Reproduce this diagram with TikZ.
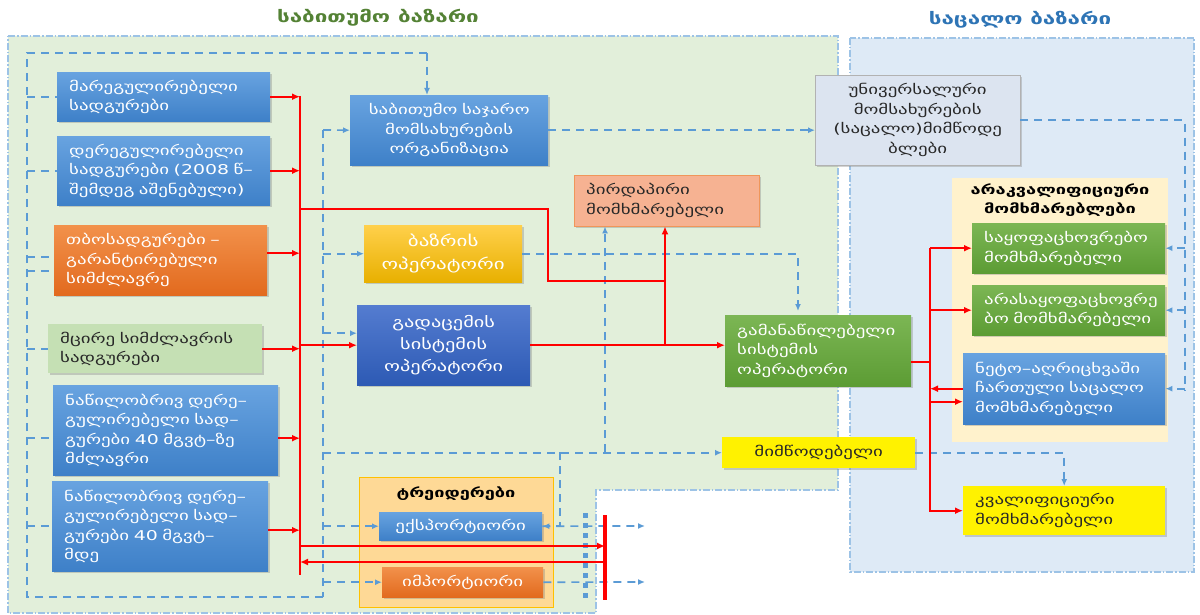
\documentclass[tikz,border=0pt]{standalone}
\usepackage{fontspec}
\setmainfont{DejaVu Sans}
\newfontfamily\geo[FakeStretch=1.4]{DejaVu Sans}
\usetikzlibrary{arrows.meta,shadows}

\definecolor{wholefill}{RGB}{226,239,218}
\definecolor{retailfill}{RGB}{222,234,246}
\definecolor{zoneline}{RGB}{157,195,230}
\definecolor{dashblue}{RGB}{91,155,213}
\definecolor{titlegreen}{RGB}{84,130,53}
\definecolor{titleblue}{RGB}{46,116,181}
\definecolor{bluetop}{RGB}{104,163,224}
\definecolor{bluebot}{RGB}{62,128,200}
\definecolor{navytop}{RGB}{84,124,208}
\definecolor{navybot}{RGB}{45,90,180}
\definecolor{orangetop}{RGB}{242,145,75}
\definecolor{orangebot}{RGB}{226,106,30}
\definecolor{greentop}{RGB}{124,182,84}
\definecolor{greenbot}{RGB}{92,156,52}
\definecolor{goldtop}{RGB}{255,208,75}
\definecolor{goldbot}{RGB}{232,176,0}
\definecolor{smallgreen}{RGB}{197,224,180}
\definecolor{salmon}{RGB}{246,178,146}
\definecolor{salmonline}{RGB}{240,150,90}
\definecolor{uspfill}{RGB}{220,228,240}
\definecolor{cream}{RGB}{255,242,204}
\definecolor{tradefill}{RGB}{254,217,150}
\definecolor{tradeline}{RGB}{255,192,0}
\definecolor{darktext}{RGB}{40,40,40}

\tikzset{
  unit/.style={rectangle, anchor=north west, inner xsep=12pt, inner ysep=2pt,
    align=left, text=white, font=\geo\fontsize{13.5}{19.5}\selectfont,
    drop shadow={opacity=0.35, shadow xshift=1.5pt, shadow yshift=-1.5pt}},
  blueunit/.style={unit, top color=bluetop, bottom color=bluebot},
  navyunit/.style={unit, top color=navytop, bottom color=navybot},
  orangeunit/.style={unit, top color=orangetop, bottom color=orangebot},
  greenunit/.style={unit, top color=greentop, bottom color=greenbot},
  goldunit/.style={unit, top color=goldtop, bottom color=goldbot},
  paleunit/.style={unit, text=darktext},
  panel/.style={rectangle, anchor=north west, inner sep=0pt},
  title/.style={font=\geo\bfseries\fontsize{16}{18}\selectfont},
  headtext/.style={font=\geo\bfseries\fontsize{13}{19}\selectfont, text=black, align=center},
  zone/.style={color=zoneline, line width=1.2pt, dash pattern=on 7pt off 2pt on 1.5pt off 2pt},
  rline/.style={red, line width=1.8pt},
  flow/.style={rline, -{Latex[length=8pt,width=7pt]}},
  link/.style={dashblue, line width=1.7pt, dash pattern=on 8pt off 6pt},
  linkarr/.style={link, -{Latex[length=7pt,width=6pt]}},
}

\begin{document}
\begin{tikzpicture}[x=1pt,y=-1pt]
\useasboundingbox (0,0) rectangle (1200,615);

% market zones
\fill[wholefill] (8,36) -- (838,36) -- (838,490) -- (596,490) -- (596,613) -- (8,613) -- cycle;
\draw[zone] (8,36) -- (838,36) -- (838,490) -- (596,490) -- (596,613) -- (8,613) -- cycle;
\fill[retailfill] (850,38) rectangle (1194,572);
\draw[zone] (850,38) rectangle (1194,572);

\node[title, text=titlegreen] (wt) at (378,18) {საბითუმო ბაზარი};
\node[title, text=titleblue] (rt) at (1020,20) {საცალო ბაზარი};

% generation
\node[blueunit, text width=189, minimum height=49] (m1) at (57,72) {მარეგულირებელი\\სადგურები};
\node[blueunit, text width=189, minimum height=69] (m2) at (57,136) {დერეგულირებელი\\სადგურები (2008 წ–\\შემდეგ აშენებული)};
\node[orangeunit, text width=189, minimum height=70] (m3) at (54,225) {თბოსადგურები –\\გარანტირებული\\სიმძლავრე};
\node[paleunit, fill=smallgreen, text width=190, minimum height=49] (m4) at (48,324) {მცირე სიმძლავრის\\სადგურები};
\node[blueunit, text width=201, minimum height=90] (m5) at (53,385) {ნაწილობრივ დერე–\\გულირებელი სად–\\გურები 40 მგვტ–ზე\\მძლავრი};
\node[blueunit, text width=192, minimum height=90] (m6) at (52,481) {ნაწილობრივ დერე–\\გულირებელი სად–\\გურები 40 მგვტ–\\მდე};

% wholesale players
\node[blueunit, align=center, text width=174, minimum height=70] (pso) at (350,95) {საბითუმო საჯარო\\მომსახურების\\ორგანიზაცია};
\node[goldunit, align=center, text width=134, minimum height=57, font=\geo\fontsize{15}{23}\selectfont] (mo) at (364,225) {ბაზრის\\ოპერატორი};
\node[navyunit, align=center, text width=149, minimum height=80, font=\geo\fontsize{14.5}{22}\selectfont] (tso) at (357,305) {გადაცემის\\სისტემის\\ოპერატორი};
\node[paleunit, fill=salmon, draw=salmonline, text width=161, minimum height=51] (dc) at (574,175) {პირდაპირი\\მომხმარებელი};
\node[greenunit, text width=162, minimum height=71] (dso) at (725,315) {გამანაწილებელი\\სისტემის\\ოპერატორი};
\node[paleunit, fill=yellow, align=center, text width=169, minimum height=31] (sup) at (722,437) {მიმწოდებელი};

% traders
\node[panel, fill=tradefill, draw=tradeline, minimum width=194, minimum height=130] (trp) at (359,477) {};
\node[headtext] (trt) at (456,494) {ტრეიდერები};
\node[blueunit, align=center, text width=139, minimum height=28] (ex) at (379,512) {ექსპორტიორი};
\node[orangeunit, align=center, text width=137, minimum height=30] (im) at (382,567) {იმპორტიორი};

% retail
\node[paleunit, fill=uspfill, draw=gray!60, align=center, text width=181, minimum height=90] (usp) at (815,75) {უნივერსალური\\მომსახურების\\(საცალო)მიმწოდე\\ბლები};
\node[panel, fill=cream, minimum width=216, minimum height=264] (nqp) at (952,178) {};
\node[headtext] (nqt) at (1060,200) {არაკვალიფიციური\\მომხმარებლები};
\node[greenunit, text width=169, minimum height=50] (hh) at (972,223) {საყოფაცხოვრებო\\მომხმარებელი};
\node[greenunit, text width=169, minimum height=50] (nh) at (972,285) {არასაყოფაცხოვრე\\ბო მომხმარებელი};
\node[blueunit, text width=178, minimum height=71] (net) at (963,353) {ნეტო–აღრიცხვაში\\ჩართული საცალო\\მომხმარებელი};
\node[paleunit, fill=yellow, text width=178, minimum height=49] (qc) at (963,486) {კვალიფიციური\\მომხმარებელი};

% dashed links
\coordinate (lt) at (27,53);
\coordinate (lb) at (27,597);
\coordinate (rt1) at (427,53);
\coordinate (v1) at (323,597);
\coordinate (v2) at (323,130);
\draw[link] (v1) -- (lb) -- (lt) -- (rt1);
\draw[linkarr] (rt1) -- (rt1 |- pso.north);
\draw[link] (v2) -- (v1);
\draw[link] (lt |- m1.west) -- (m1.west);
\draw[link] (lt |- m2.west) -- (m2.west);
\draw[link] ([yshift=3pt]m3.west -| lt) -- ([yshift=3pt]m3.west);
\draw[link] ([yshift=-11pt]m3.west -| lt) -- ([yshift=-11pt]m3.west);
\draw[link] (lt |- m4.west) -- (m4.west);
\draw[link] ([yshift=-8pt]m5.west -| lt) -- ([yshift=-8pt]m5.west);
\draw[link] (lt |- m6.west) -- (m6.west);
\draw[linkarr] (v2) -- (pso.west);
\draw[linkarr] (v1 |- mo.west) -- (mo.west);
\draw[linkarr] ([yshift=12pt]tso.west -| v1) -- ([yshift=12pt]tso.west);
\draw[linkarr] (v1 |- ex.west) -- (ex.west);
\draw[linkarr] (v1 |- im.west) -- (im.west);
\draw[linkarr] (v1 |- sup.west) -- (sup.west);
\coordinate (d1) at (605,452);
\coordinate (d2) at (560,452);
\draw[linkarr] (d1) -- (d1 |- dc.south);
\draw[linkarr] (d2) |- (ex.east);
\coordinate (x1) at (645,526);
\coordinate (x2) at (645,582);
\draw[linkarr] (ex.east) -- (x1);
\draw[linkarr] (im.east) -- (x2);
\draw[dashblue, line width=5pt, dash pattern=on 5pt off 5pt] (585,513) -- (585,600);
\draw[linkarr] (pso.east) -- (pso.east -| usp.west);
\draw[linkarr] (mo.east) -| (798,311);
\draw[linkarr] (sup.east) -| (qc.north);
\coordinate (rv) at (1185,390);
\draw[link] (usp.east) -| (rv);
\draw[linkarr] (hh.east -| rv) -- (hh.east);
\draw[linkarr] (nh.east -| rv) -- (nh.east);
\draw[linkarr] (net.east -| rv) -- (net.east);

% power flows
\coordinate (bt) at (300,96);
\coordinate (bb) at (300,575);
\draw[rline] (bt) -- (bb);
\draw[flow] (m1.east) -- (m1.east -| bt);
\draw[flow] (m2.east) -- (m2.east -| bt);
\draw[flow] ([yshift=7pt]m3.east) -- ([yshift=7pt]m3.east -| bt);
\draw[flow] (m4.east) -- (m4.east -| bt);
\draw[flow] ([yshift=-8pt]m5.east) -- ([yshift=-8pt]m5.east -| bt);
\draw[flow] ([yshift=-4pt]m6.east) -- ([yshift=-4pt]m6.east -| bt);
\coordinate (r1) at (300,209);
\coordinate (r2) at (548,281);
\coordinate (r3) at (665,281);
\draw[rline] (r1) -| (r2) -- (r3);
\draw[flow] (tso.west -| bt) -- (tso.west);
\draw[flow] (tso.east) -- (tso.east -| dso.west);
\draw[flow] (tso.east -| r3) -- (r3 |- dc.south);
\coordinate (bar1) at (605,515);
\coordinate (bar2) at (605,600);
\draw[red, line width=4pt] (bar1) -- (bar2);
\coordinate (e1) at (300,546);
\coordinate (e2) at (300,562);
\draw[flow] (e1) -- (e1 -| bar1);
\draw[flow] (e2 -| bar1) -- (e2);
\coordinate (b2t) at (930,248);
\coordinate (b2b) at (930,512);
\draw[rline] (b2t) -- (b2b);
\draw[rline] ([yshift=-11pt]dso.east) -- ([yshift=-11pt]dso.east -| b2t);
\draw[flow] (hh.west -| b2t) -- (hh.west);
\draw[flow] (nh.west -| b2t) -- (nh.west);
\draw[flow] (net.west) -- (net.west -| b2t);
\draw[flow] ([yshift=-13pt]net.west -| b2t) -- ([yshift=-13pt]net.west);
\draw[flow] (qc.west -| b2t) -- (qc.west);

\end{tikzpicture}
\end{document}
